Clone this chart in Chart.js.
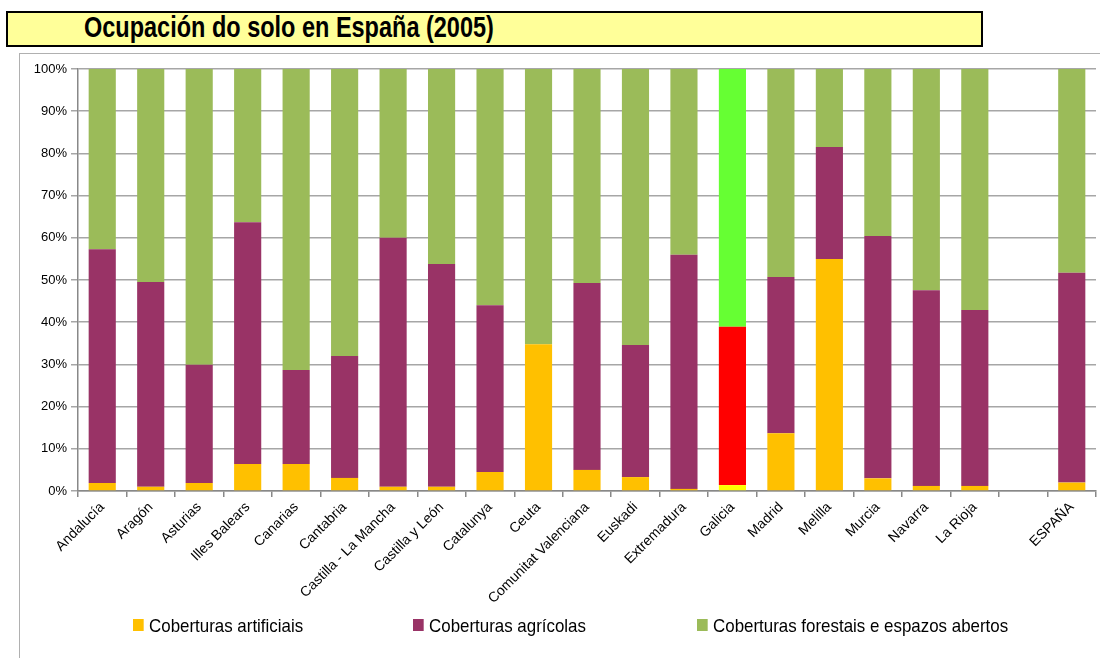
<!DOCTYPE html>
<html>
<head>
<meta charset="utf-8">
<script src="https://cdn.jsdelivr.net/npm/chart.js@4.4.1/dist/chart.umd.min.js"></script>
<style>
  html, body { margin: 0; padding: 0; background: #fff; }
  body { width: 1100px; height: 658px; position: relative; overflow: hidden;
         font-family: "Liberation Sans Narrow", "Arial Narrow", "Liberation Sans", sans-serif; }
  #title { position: absolute; left: 6px; top: 11px; width: 973px; height: 32px;
           background: #ffff99; border: 2px solid #000; }
  #title span { position: absolute; left: 76px; top: -2px; font-size: 29px; font-weight: bold; color: #000;
                white-space: nowrap; transform: scaleX(0.81); transform-origin: 0 50%; }
  #frame { position: absolute; left: 19px; top: 53px; width: 1100px; height: 700px;
           border-left: 1px solid #b0b0b0; border-top: 1px solid #b0b0b0; }
  #wrap { position: absolute; left: 0; top: 0; width: 1100px; height: 658px; }
  .leg { position: absolute; top: 615px; font-size: 19px; color: #000; white-space: nowrap;
         transform: scaleX(0.89); transform-origin: 0 50%; }
  .leg i { display: inline-block; width: 12px; height: 12px; margin-right: 6px; vertical-align: 1px; }
</style>
</head>
<body>
<div id="title"><span>Ocupación do solo en España (2005)</span></div>
<div id="frame"></div>
<div id="wrap"><canvas id="soloChart" width="1100" height="658"></canvas></div>
<div id="legend"></div>
<script>
const categories = ["Andalucía", "Aragón", "Asturias", "Illes Balears", "Canarias", "Cantabria",
  "Castilla - La Mancha", "Castilla y León", "Catalunya", "Ceuta", "Comunitat Valenciana",
  "Euskadi", "Extremadura", "Galicia", "Madrid", "Melilla", "Murcia", "Navarra", "La Rioja",
  "", "ESPAÑA"];

const artificiais = [1.9, 1.0, 1.9, 6.4, 6.4, 3.1, 1.0, 1.0, 4.5, 34.8, 5.0, 3.3, 0.5, 1.4,
  13.7, 55.0, 3.0, 1.2, 1.2, null, 2.0];
const agricolas = [55.4, 48.5, 28.0, 57.3, 22.3, 28.9, 59.0, 52.8, 39.5, 0.0, 44.3, 31.3, 55.5,
  37.5, 37.0, 26.5, 57.4, 46.4, 41.7, null, 49.7];
const forestais = [42.7, 50.5, 70.1, 36.3, 71.3, 68.0, 40.0, 46.2, 56.0, 65.2, 50.7, 65.4, 44.0,
  61.1, 49.3, 18.5, 39.6, 52.4, 57.1, null, 48.3];

const seriesNames = ["Coberturas artificiais", "Coberturas agrícolas",
  "Coberturas forestais e espazos abertos"];
const seriesColors = ["#ffc000", "#993366", "#9bbb59"];
const galiciaColors = ["#ffff00", "#ff0000", "#66ff33"];

const yTicks = [0, 10, 20, 30, 40, 50, 60, 70, 80, 90, 100];

const FONT = '"Liberation Sans Narrow", "Arial Narrow", "Liberation Sans", sans-serif';

// Galicia is drawn with its own colours
const colorsFor = (i) => categories.map((c) => (c === "Galicia" ? galiciaColors[i] : seriesColors[i]));

const values = [artificiais, agricolas, forestais];
const datasets = values.map((d, i) => ({
  label: seriesNames[i],
  data: d,
  backgroundColor: colorsFor(i),
  borderWidth: 0,
  barPercentage: 0.56,
  categoryPercentage: 1.0,
}));

// html legend, spread like the original
const legendX = [133, 413, 697];
const legend = document.getElementById("legend");
seriesNames.forEach((name, i) => {
  const el = document.createElement("div");
  el.className = "leg";
  el.style.left = legendX[i] + "px";
  el.innerHTML = '<i style="background:' + seriesColors[i] + '"></i>' + name;
  legend.appendChild(el);
});

const ctx = document.getElementById("soloChart").getContext("2d");
new Chart(ctx, {
  type: "bar",
  data: { labels: categories, datasets },
  options: {
    responsive: false,
    animation: false,
    layout: { padding: { top: 69, left: 20, right: 4, bottom: 47 } },
    plugins: {
      legend: { display: false },
      title: { display: false },
      tooltip: { enabled: false },
    },
    scales: {
      x: {
        stacked: true,
        offset: true,
        border: { color: "#888", width: 1.5 },
        grid: { offset: true, drawOnChartArea: false, drawTicks: true, tickLength: 6, color: "#888", lineWidth: 1.5 },
        ticks: {
          autoSkip: false,
          maxRotation: 45,
          minRotation: 45,
          padding: 2,
          color: "#000",
          font: { family: FONT, size: 14 },
        },
        afterFit: (s) => { s.height = 120; },
      },
      y: {
        stacked: true,
        min: 0,
        max: 100,
        afterBuildTicks: (s) => { s.ticks = yTicks.map((v) => ({ value: v })); },
        border: { color: "#888", width: 1.5 },
        grid: { color: "#a6a6a6", lineWidth: 1.5, tickLength: 7 },
        ticks: {
          padding: 4,
          color: "#000",
          font: { family: FONT, size: 13 },
          callback: (v) => v + "%",
        },
        afterFit: (s) => { s.width = 58; },
      },
    },
  },
});
</script>
</body>
</html>
